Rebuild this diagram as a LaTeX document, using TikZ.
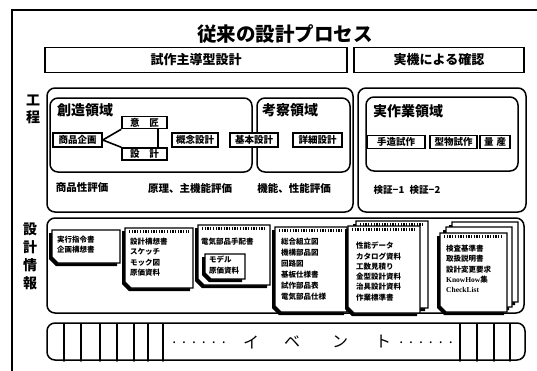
\documentclass[tikz,border=0pt]{standalone}
\usepackage{fontspec}
\setmainfont{Noto Sans CJK JP}
\newfontfamily\latinb{Liberation Serif}
\newcommand\mydoc[4]{%
  \fill[black] (#1-3,#2+3) -- (#3-3,#2+3) -- (#3-3,#4+3) -- (#1+4,#4+3) -- (#1-3,#4-4) -- cycle;
  \filldraw[fill=white, line width=1.2pt] (#1,#2) -- (#3,#2) -- (#3,#4) -- (#1+6,#4) -- (#1,#4-6) -- cycle;}
\newcommand\mybind[3]{%
  \draw[line width=2.4pt, dash pattern=on 1.3pt off 1.4pt] (#1+4,#3+3.5) -- (#2-4,#3+3.5);}
\begin{document}
\begin{tikzpicture}[x=1pt,y=-1pt,
  hdr/.style={draw, line width=1.7pt, inner sep=0pt, font=\fontsize{13}{13}\selectfont\bfseries},
  region/.style={draw, line width=1.5pt, rounded corners=8pt, inner sep=0pt},
  sbox/.style={draw, fill=white, line width=1.5pt, inner sep=0pt, minimum height=13pt, font=\fontsize{9.5}{9.5}\selectfont\bfseries},
  conn/.style={line width=1.6pt},
  lbl/.style={inner sep=0pt, font=\fontsize{10.5}{10.5}\selectfont\bfseries},
  rtitle/.style={inner sep=0pt, anchor=west, font=\fontsize{14}{14}\selectfont\bfseries},
  side/.style={inner sep=0pt, font=\fontsize{14}{14}\selectfont\bfseries},
  doctext/.style={inner sep=0pt, anchor=north west, align=left, font=\fontsize{7.5}{10.3}\selectfont\bfseries},
  evtext/.style={inner sep=0pt, font=\fontsize{16}{16}\selectfont}]
\useasboundingbox (0,0) rectangle (537,370);
% outer frame
\draw[line width=1.5pt] (12,372) -- (12,10) -- (537,10);
% title
\node[inner sep=0pt, font=\fontsize{19.5}{19.5}\selectfont\bfseries] (title) at (285,34) {従来の設計プロセス};
% headers
\node[hdr, minimum width=302pt, minimum height=25pt] (h1) at (196,60) {試作主導型設計};
\node[hdr, minimum width=170pt, minimum height=25pt] (h2) at (439,60) {実機による確認};
% side labels
\node[side] (s1) at (33,100) {工};
\node[side] (s2) at (33,117) {程};
\node[side] (s3) at (30,229) {設};
\node[side] (s4) at (30,247) {計};
\node[side] (s5) at (30,265) {情};
\node[side] (s6) at (30,283) {報};
% process regions
\node[region, minimum width=306pt, minimum height=124pt] (pl) at (200,150) {};
\node[region, minimum width=168pt, minimum height=124pt] (pr) at (442,150) {};
\node[region, minimum width=202pt, minimum height=74pt] (r1) at (151,135) {};
\node[region, minimum width=93pt, minimum height=74pt] (r2) at (303.5,135) {};
\node[region, minimum width=152pt, minimum height=74pt] (r3) at (442,134) {};
\node[rtitle] (t1) at (57,110) {創造領域};
\node[rtitle] (t2) at (262,110) {考察領域};
\node[rtitle] (t3) at (373,111) {実作業領域};
% boxes
\node[sbox, minimum width=49pt, minimum height=14pt] (shohin) at (77.5,140) {商品企画};
\node[sbox, minimum width=45pt, minimum height=12pt] (isho) at (144.5,122.5) {意\hspace{10pt}匠};
\node[sbox, minimum width=45pt, minimum height=12pt] (sekkei) at (144.5,154) {設\hspace{10pt}計};
\node[sbox, minimum width=46pt, minimum height=14pt] (gainen) at (195,140) {概念設計};
\node[sbox, minimum width=48pt, minimum height=14pt] (kihon) at (254,140) {基本設計};
\node[sbox, minimum width=49pt, minimum height=14pt] (shosai) at (317.5,140) {詳細設計};
\node[sbox, minimum width=58pt, minimum height=13pt] (tezukuri) at (396,142) {手造試作};
\node[sbox, minimum width=47pt, minimum height=13pt] (katamono) at (453.5,142) {型物試作};
\node[sbox, minimum width=30pt, minimum height=13pt] (ryosan) at (495,142) {量\hspace{3pt}産};
\draw[conn] (shohin.east) -- (isho.south west);
\draw[conn] (shohin.east) -- (sekkei.north west);
\draw[conn] ([xshift=13.5pt]isho.south) -- ([xshift=13.5pt]sekkei.north);
% evaluation labels
\node[lbl] (e1) at (82,188) {商品性評価};
\node[lbl] (e2) at (190,188) {原理、主機能評価};
\node[lbl] (e3) at (294,188) {機能、性能評価};
\node[lbl, font=\fontsize{9.5}{9.5}\selectfont\bfseries] (e4) at (389,190) {検証−1};
\node[lbl, font=\fontsize{9.5}{9.5}\selectfont\bfseries] (e5) at (425,190) {検証−2};
% design information
\node[region, minimum width=477pt, minimum height=95pt] (info) at (285.5,265.5) {};
% doc 1
\mydoc{52}{230}{120}{263}
\node[doctext] (d1) at (57,236) {実行指令書\\企画構想書};
% doc 2
\mydoc{125}{228}{193}{288}
\mybind{125}{193}{228}
\node[doctext] (d2) at (130,238) {設計構想書\\スケッチ\\モック図\\原価資料};
% doc 3
\mydoc{198}{225}{270}{285}
\mybind{198}{270}{225}
\node[doctext] (d3) at (201,238) {電気部品手配書};
\mydoc{205}{254}{245}{279}
\node[doctext] (d3b) at (209,256) {モデル\\原価資料};
% doc 4
\mydoc{275}{227}{347}{312}
\mybind{275}{347}{227}
\node[doctext, font=\fontsize{7.5}{11}\selectfont\bfseries] (d4) at (281,238) {総合組立図\\機構部品図\\回路図\\基板仕様書\\試作部品表\\電気部品仕様};
% doc 5
\mydoc{356}{221}{428}{308}
\mybind{356}{428}{221}
\mydoc{348}{226}{420}{313}
\mybind{348}{420}{226}
\node[doctext] (d5) at (356,242) {性能データ\\カタログ資料\\工数見積り\\金型設計資料\\治具設計資料\\作業標準書};
% doc 6
\mydoc{452}{222}{518}{302}
\mydoc{446}{227}{512}{307}
\mydoc{440}{233}{507}{312}
\mybind{440}{507}{233}
\node[doctext] (d6) at (446,245) {検査基準書\\取扱説明書\\設計変更要求\\{\latinb KnowHow}集\\{\latinb CheckList}};
% event bar
\node[region, minimum width=478pt, minimum height=37pt] (ev) at (286,341.5) {};
\foreach \x in {64,81,100,117,134,148,163,460,477,494,510} {
  \draw[conn] (\x,323) -- (\x,360);
  \fill (\x,360.5) circle (1.4pt);
}
\node[evtext, font=\fontsize{14}{14}\selectfont] (dots1) at (199,343) {.\kern6pt.\kern6pt.\kern6pt.\kern6pt.\kern6pt.};
\node[evtext] (k1) at (251,342) {イ};
\node[evtext] (k2) at (292,342) {ベ};
\node[evtext] (k3) at (340,342) {ン};
\node[evtext] (k4) at (383,342) {ト};
\node[evtext, font=\fontsize{14}{14}\selectfont] (dots2) at (426,343) {.\kern6pt.\kern6pt.\kern6pt.\kern6pt.\kern6pt.};
\end{tikzpicture}
\end{document}
